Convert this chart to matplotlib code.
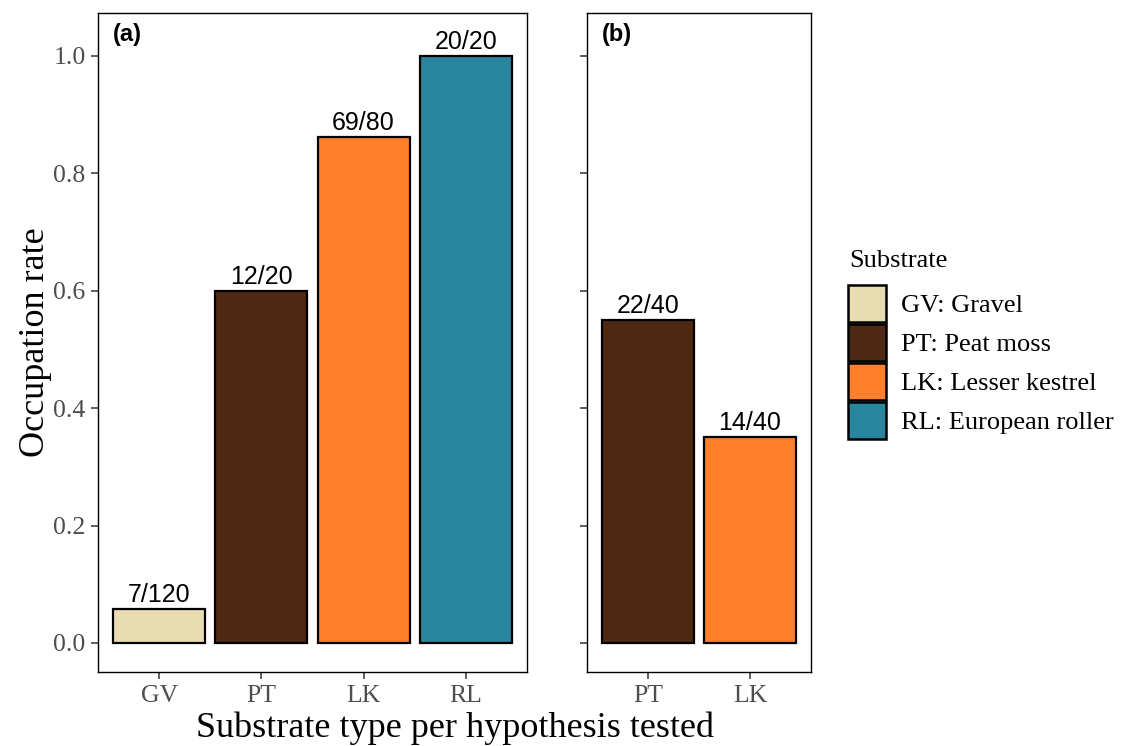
import matplotlib.pyplot as plt
from matplotlib.patches import Patch

# panel (a)
cats_a = ['GV', 'PT', 'LK', 'RL']
occupied_a = [7, 12, 69, 20]
tested_a = [120, 20, 80, 20]
# panel (b)
cats_b = ['PT', 'LK']
occupied_b = [22, 14]
tested_b = [40, 40]

colors = {'GV': '#E8DCB0', 'PT': '#4E2A14', 'LK': '#FF7F2A', 'RL': '#2A869E'}
legend_labels = {'GV': 'GV: Gravel', 'PT': 'PT: Peat moss',
                 'LK': 'LK: Lesser kestrel', 'RL': 'RL: European roller'}

serif = 'Liberation Serif'
sans = 'Liberation Sans'
W, H = 1128, 746

fig = plt.figure(figsize=(W / 100, H / 100), dpi=100)
ax_a = fig.add_axes([98 / W, (H - 672) / H, 429 / W, 659 / H])
ax_b = fig.add_axes([587 / W, (H - 672) / H, 224 / W, 659 / H])


def panel(ax, cats, occ, tot, tag, show_y, width_px):
    rates = [o / t for o, t in zip(occ, tot)]
    x = list(range(len(cats)))
    bars = ax.bar(x, rates, width=0.9, color=[colors[c] for c in cats],
                  edgecolor='black', linewidth=1.6)
    for b, o, t in zip(bars, occ, tot):
        ax.annotate(f'{o}/{t}', (b.get_x() + b.get_width() / 2, b.get_height()),
                    xytext=(0, 1.5), textcoords='offset points',
                    ha='center', va='bottom', fontsize=18, family=sans)
    ax.set_xlim(-0.6, len(cats) - 0.4)
    ax.set_ylim(-0.0494, 1.073)
    ax.set_xticks(x, cats)
    ax.set_yticks([0, 0.2, 0.4, 0.6, 0.8, 1.0])
    if show_y:
        ax.set_yticklabels(['0.0', '0.2', '0.4', '0.6', '0.8', '1.0'])
    else:
        ax.set_yticklabels([])
    ax.tick_params(length=5, width=1.1, color='#333333', labelcolor='#4D4D4D',
                   labelsize=18.5, pad=4)
    for lab in ax.get_xticklabels() + ax.get_yticklabels():
        lab.set_family(serif)
    for s in ax.spines.values():
        s.set_color('black')
        s.set_linewidth(1.0)
    ax.text(15 / width_px, 0.985, tag, transform=ax.transAxes,
            ha='left', va='top', fontsize=17, fontweight='bold', family=sans)


panel(ax_a, cats_a, occupied_a, tested_a, '(a)', True, 429)
panel(ax_b, cats_b, occupied_b, tested_b, '(b)', False, 224)

ax_a.set_ylabel('Occupation rate', fontsize=26, family=serif, labelpad=1)
fig.text(455 / W, 1 - 737 / H, 'Substrate type per hypothesis tested',
         ha='center', va='baseline', fontsize=26, family=serif)

# legend: title as separate text, keys below
fig.text(849 / W, 1 - 267 / H, 'Substrate', ha='left', va='baseline',
         fontsize=19, family=serif)
handles = [Patch(facecolor=colors[c], edgecolor='black', linewidth=1.8,
                 label=legend_labels[c]) for c in cats_a]
leg = fig.legend(handles=handles, loc='upper left',
                 bbox_to_anchor=(848 / W, 1 - 285 / H), frameon=False,
                 prop={'family': serif, 'size': 19},
                 handlelength=1.44, handleheight=1.78, labelspacing=0.08,
                 handletextpad=0.55, borderpad=0, borderaxespad=0)

fig.savefig('out.png', dpi=100)
